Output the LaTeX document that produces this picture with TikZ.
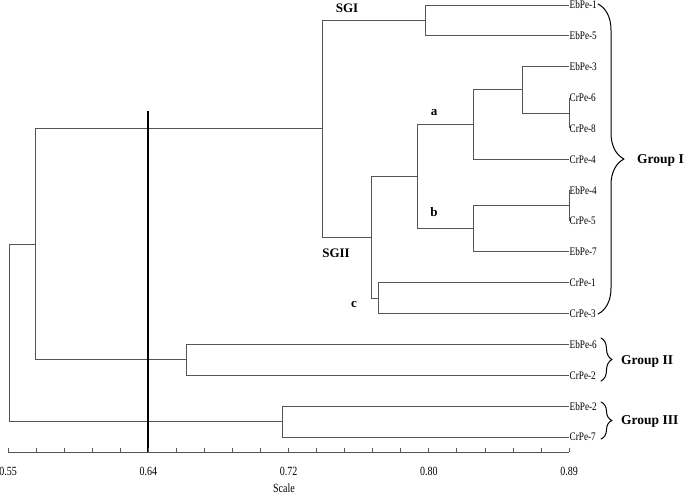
\documentclass[tikz,border=0pt]{standalone}
\usepackage{fontspec}
\setmainfont{Liberation Serif}
\newfontfamily\leaffont[FakeStretch=0.8]{Liberation Serif}
\usetikzlibrary{decorations.pathreplacing}
\definecolor{treegray}{RGB}{85,85,85}
\tikzset{
  branch/.style={draw=treegray, line width=0.85pt},
  leaflab/.style={anchor=west, inner sep=0.5pt, font=\leaffont\fontsize{11.5}{13}\selectfont},
  ticklab/.style={font=\leaffont\fontsize{12.5}{14}\selectfont, inner sep=0pt},
  clab/.style={font=\bfseries\fontsize{13}{15}\selectfont, inner sep=0pt},
  glab/.style={font=\bfseries\fontsize{13.5}{16}\selectfont, anchor=west, inner sep=0pt},
  bracepath/.style={draw=black, line width=1pt, decorate, line cap=round, line join=round},
}
\begin{document}
\begin{tikzpicture}[x=1pt, y=-1pt]
\useasboundingbox (0,0) rectangle (685,495);

% leaves
\foreach \i/\name in {1/EbPe-1,2/EbPe-5,3/EbPe-3,4/CrPe-6,5/CrPe-8,6/CrPe-4,7/EbPe-4,8/CrPe-5,9/EbPe-7,10/CrPe-1,11/CrPe-3,12/EbPe-6,13/CrPe-2,14/EbPe-2,15/CrPe-7}{
  \coordinate (L\i) at (569, {5 + (\i-1)*30.857});
  \node[leaflab] (T\i) at (L\i) {\name};
}

% internal nodes
\coordinate (n45) at (569,113);
\coordinate (n345) at (522,89.9);
\coordinate (na) at (473,124.6);
\coordinate (n78) at (569,205.6);
\coordinate (nb) at (473,228.7);
\coordinate (nab) at (417,176.6);
\coordinate (nc) at (378,298.1);
\coordinate (nsg2) at (371,237.3);
\coordinate (nsg1) at (425,20.4);
\coordinate (ng1) at (322,128.9);
\coordinate (ng2) at (186,359.9);
\coordinate (n113) at (35,244.4);
\coordinate (ng3) at (282,421.5);
\coordinate (root) at (9,333);

% branches
\path[branch] (n45) |- (L4) (n45) |- (L5);
\path[branch] (n345) |- (L3) (n345) |- (n45);
\path[branch] (na) |- (n345) (na) |- (L6);
\path[branch] (n78) |- (L7) (n78) |- (L8);
\path[branch] (nb) |- (n78) (nb) |- (L9);
\path[branch] (nab) |- (na) (nab) |- (nb);
\path[branch] (nc) |- (L10) (nc) |- (L11);
\path[branch] (nsg2) |- (nab) (nsg2) |- (nc);
\path[branch] (nsg1) |- (L1) (nsg1) |- (L2);
\path[branch] (ng1) |- (nsg1) (ng1) |- (nsg2);
\path[branch] (ng2) |- (L12) (ng2) |- (L13);
\path[branch] (n113) |- (ng1) (n113) |- (ng2);
\path[branch] (ng3) |- (L14) (ng3) |- (L15);
\path[branch] (root) |- (n113) (root) |- (ng3);

% cluster labels
\node[clab] (sgi) at (347,8) {SGI};
\node[clab] (sgii) at (336,253) {SGII};
\node[clab] (la) at (434,113) {a};
\node[clab] (lb) at (434,212) {b};
\node[clab] (lc) at (354,304) {c};

% cut line
\coordinate (cutTop) at (148,111);
\coordinate (cutBot) at (148,452);
\draw[line width=1.8pt] (cutTop) -- (cutBot);

% axis
\coordinate (ax0) at (8,452);
\coordinate (ax1) at (569,452);
\draw[treegray, line width=0.85pt] (ax0) -- (ax1);
\foreach \k in {0,...,20}{
  \draw[treegray, line width=0.7pt] ({8+\k*28.05},452) -- ({8+\k*28.05},448);
}
\foreach \k/\lab in {0/0.55,5/0.64,10/0.72,15/0.80,20/0.89}{
  \node[ticklab] (tk\k) at ({8+\k*28.05},471) {\lab};
}
\node[ticklab] (scale) at (284,488) {Scale};

% braces
\coordinate (b1t) at (598,4);
\coordinate (b1b) at (598,314);
\path[bracepath, decoration={brace, amplitude=26pt, aspect=0.5}] (b1t) -- (b1b);
\coordinate (b2t) at (601,338);
\coordinate (b2b) at (601,381);
\path[bracepath, decoration={brace, amplitude=11pt, aspect=0.5}] (b2t) -- (b2b);
\coordinate (b3t) at (601,402);
\coordinate (b3b) at (601,439);
\path[bracepath, decoration={brace, amplitude=11pt, aspect=0.5}] (b3t) -- (b3b);

\node[glab] (g1) at (637,160) {Group I};
\node[glab] (g2) at (621,361) {Group II};
\node[glab] (g3) at (621,421) {Group III};
\end{tikzpicture}
\end{document}
